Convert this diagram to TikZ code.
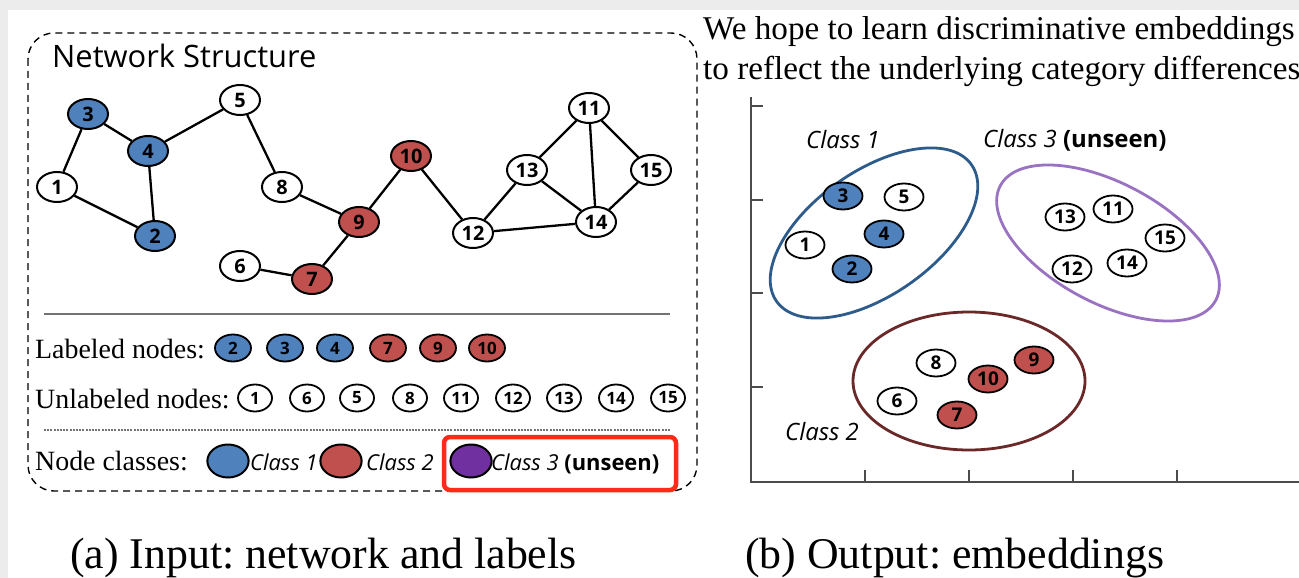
\documentclass[tikz,border=0pt]{standalone}
\usepackage{fontspec}
\setmainfont{Liberation Serif}
\newfontfamily\comic{Open Sans}
\usetikzlibrary{shapes.geometric}
\definecolor{nblue}{HTML}{4F81BD}
\definecolor{nred}{HTML}{C0504D}
\definecolor{npurple}{HTML}{7030A0}
\definecolor{eblue}{HTML}{2C5B8C}
\definecolor{epurple}{HTML}{9A72C2}
\definecolor{ered}{HTML}{6A2828}
\definecolor{bggray}{HTML}{ECECEC}
\definecolor{boxred}{HTML}{FF2A1A}
\frenchspacing
\begin{document}
\begin{tikzpicture}[x=1bp,y=-1bp,
  gnode/.style={ellipse, draw=black, line width=2bp, fill=white, minimum width=40bp, minimum height=30bp, inner sep=0pt, font=\comic\bfseries\fontsize{20}{20}\selectfont},
  lnode/.style={ellipse, draw=black, line width=1.8bp, fill=white, minimum width=36bp, minimum height=27bp, inner sep=0pt, font=\comic\bfseries\fontsize{17}{17}\selectfont},
  unode/.style={lnode, minimum width=34bp},
  enode/.style={ellipse, draw=black, line width=1.8bp, fill=white, minimum width=39bp, minimum height=27bp, inner sep=0pt, font=\comic\bfseries\fontsize{19}{19}\selectfont},
  cblue/.style={fill=nblue},
  cred/.style={fill=nred},
  edge/.style={draw=black, line width=2.3bp},
  serif/.style={anchor=base west, inner sep=0pt, font=\fontsize{28}{28}\selectfont},
  clabel/.style={anchor=base west, inner sep=0pt, font=\comic\itshape\fontsize{22}{22}\selectfont},
  eclabel/.style={anchor=base west, inner sep=0pt, font=\comic\itshape\fontsize{24}{24}\selectfont},
  legc/.style={circle, draw=black, line width=2bp, minimum width=33bp, inner sep=0pt, xscale=1.25},
  axisline/.style={draw=black!70, line width=2.2bp},
  tickline/.style={draw=black!70, line width=1.8bp}
]
\useasboundingbox (0,0) rectangle (1299,578);
\fill[bggray] (0,0) rectangle (1299,578);
\fill[white] (8,10) rectangle (1299,578);

% ---------- left panel ----------
\draw[dashed, dash pattern=on 7bp off 5bp, line width=1.4bp, rounded corners=26bp] (28,33) rectangle (697,491);
\node[anchor=base west, inner sep=0pt, font=\comic\fontsize{31}{31}\selectfont] (title) at (52,68) {Network Structure};

\node[gnode, cblue] (g3) at (88,114) {3};
\node[gnode, cblue] (g4) at (148,151) {4};
\node[gnode] (g1) at (57,187) {1};
\node[gnode, cblue] (g2) at (155,236) {2};
\node[gnode] (g5) at (240,100) {5};
\node[gnode] (g8) at (282,187) {8};
\node[gnode] (g6) at (240,266) {6};
\node[gnode, cred] (g7) at (312,279) {7};
\node[gnode, cred] (g9) at (359,222) {9};
\node[gnode, cred] (g10) at (411,156) {10};
\node[gnode] (g12) at (473,233) {12};
\node[gnode] (g13) at (527,170) {13};
\node[gnode] (g11) at (589,108) {11};
\node[gnode] (g15) at (651,170) {15};
\node[gnode] (g14) at (596,222) {14};

\foreach \a/\b in {g1/g3, g3/g4, g1/g2, g4/g2, g4/g5, g5/g8, g8/g9, g9/g7, g6/g7, g9/g10, g10/g12, g12/g13, g12/g14, g13/g11, g13/g14, g11/g14, g11/g15, g15/g14}
  \draw[edge] (\a) -- (\b);

\coordinate (s1a) at (44,314); \coordinate (s1b) at (670,314);
\draw[draw=black!55, line width=2.5bp] (s1a) -- (s1b);
\coordinate (s2a) at (44,430); \coordinate (s2b) at (670,430);
\draw[draw=black!55, line width=2bp, dash pattern=on 2bp off 1.2bp] (s2a) -- (s2b);

\node[serif] (lab) at (35,358) {Labeled nodes:};
\node[lnode, cblue] (l2) at (233,348) {2};
\node[lnode, cblue] (l3) at (285,348) {3};
\node[lnode, cblue] (l4) at (335,348) {4};
\node[lnode, cred] (l7) at (388,348) {7};
\node[lnode, cred] (l9) at (438,348) {9};
\node[lnode, cred] (l10) at (487,348) {10};

\node[serif] (unl) at (35,408) {Unlabeled nodes:};
\node[unode] (u1) at (255,398) {1};
\node[unode] (u6) at (307,398) {6};
\node[unode] (u5) at (357,398) {5};
\node[unode] (u8) at (410,398) {8};
\node[unode] (u11) at (461,398) {11};
\node[unode] (u12) at (513,398) {12};
\node[unode] (u13) at (564,398) {13};
\node[unode] (u14) at (616,398) {14};
\node[unode] (u15) at (668,398) {15};

\node[serif] (ncl) at (35,470) {Node classes:};
\node[legc, fill=nblue] (k1) at (228,461) {};
\node[clabel] (k1t) at (250,470) {Class 1};
\node[legc, fill=nred] (k2) at (341,461) {};
\node[clabel] (k2t) at (366,470) {Class 2};
\node[legc, fill=npurple] (k3) at (471,461) {};
\node[clabel] (k3t) at (491,470) {Class 3 {\upshape\bfseries (unseen)}};
\draw[boxred, line width=4.5bp, rounded corners=6bp] (444,437) rectangle (676,490);

% ---------- right panel ----------
\node[anchor=base west, inner sep=0pt, font=\fontsize{33.3}{33.3}\selectfont] (h1) at (703,40) {We hope to learn discriminative embeddings};
\node[anchor=base west, inner sep=0pt, font=\fontsize{33.3}{33.3}\selectfont] (h2) at (703,80) {to reflect the underlying category differences};

\coordinate (ytop) at (751,97);
\coordinate (orig) at (751,482);
\coordinate (xend) at (1299,482);
\draw[axisline] (ytop) -- (orig) -- (xend);
\foreach \yy in {106,200,293,387} \draw[tickline] (751,\yy) -- (763,\yy);
\foreach \xx in {865,969,1073,1177} \draw[tickline] (\xx,482) -- (\xx,470);

\node[ellipse, draw=eblue, line width=2.8bp, minimum width=238bp, minimum height=124bp, rotate=35] (c1) at (874,233) {};
\node[ellipse, draw=epurple, line width=2.8bp, minimum width=244bp, minimum height=120bp, rotate=-28] (c3) at (1108,243) {};
\node[ellipse, draw=ered, line width=2.8bp, minimum width=232bp, minimum height=138bp] (c2) at (969,381) {};

\node[eclabel] (c1t) at (806,149) {Class 1};
\node[eclabel] (c3t) at (983,148) {Class 3 {\upshape\bfseries (unseen)}};
\node[eclabel] (c2t) at (785,440) {Class 2};

\node[enode, cblue] (e3) at (843,196) {3};
\node[enode] (e5) at (904,197) {5};
\node[enode] (e1) at (805,245) {1};
\node[enode, cblue] (e4) at (884,234) {4};
\node[enode, cblue] (e2) at (852,269) {2};
\node[enode] (e13) at (1065,217) {13};
\node[enode] (e11) at (1113,209) {11};
\node[enode] (e15) at (1165,238) {15};
\node[enode] (e12) at (1072,269) {12};
\node[enode] (e14) at (1127,263) {14};
\node[enode] (e8) at (936,363) {8};
\node[enode, cred] (e9) at (1034,360) {9};
\node[enode, cred] (e10) at (988,379) {10};
\node[enode] (e6) at (897,401) {6};
\node[enode, cred] (e7) at (957,415) {7};

% ---------- captions ----------
\node[anchor=base west, inner sep=0pt, font=\fontsize{44}{44}\selectfont] (capa) at (70,568) {(a) Input: network and labels};
\node[anchor=base west, inner sep=0pt, font=\fontsize{44}{44}\selectfont] (capb) at (745,568) {(b) Output: embeddings};
\end{tikzpicture}
\end{document}
